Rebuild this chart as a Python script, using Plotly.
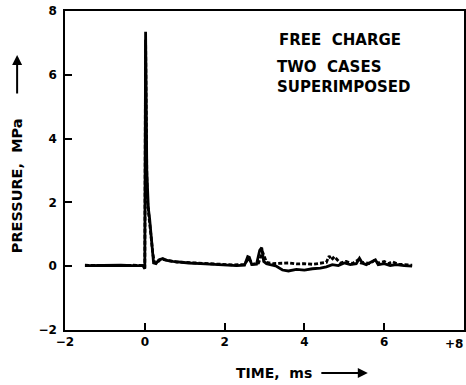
import plotly.graph_objects as go

# Case 1 (solid)
t_solid = [-1.5, -1.2, -0.9, -0.6, -0.3, -0.05, 0.0, 0.01, 0.02, 0.03, 0.05, 0.07,
           0.09, 0.12, 0.15, 0.18, 0.22, 0.28, 0.35, 0.45, 0.55, 0.7, 0.9, 1.1, 1.4,
           1.7, 2.0, 2.3, 2.5, 2.58, 2.62, 2.68, 2.8, 2.88, 2.93, 2.98, 3.05, 3.15,
           3.3, 3.45, 3.6, 3.8, 4.0, 4.2, 4.4, 4.55, 4.7, 4.85, 5.0, 5.15, 5.3, 5.38,
           5.45, 5.55, 5.7, 5.78, 5.85, 6.0, 6.15, 6.3, 6.5, 6.7]
p_solid = [0.02, 0.03, 0.02, 0.03, 0.02, 0.02, -0.08, 3.0, 7.35, 6.0, 3.0, 2.0,
           1.8, 1.5, 1.0, 0.6, 0.1, 0.08, 0.2, 0.24, 0.18, 0.15, 0.12, 0.1, 0.08,
           0.06, 0.05, 0.02, 0.03, 0.3, 0.28, 0.05, 0.06, 0.5, 0.58, 0.15, 0.08, 0.05,
           0.0, -0.12, -0.15, -0.1, -0.12, -0.08, -0.06, -0.02, 0.05, 0.02, 0.1, 0.05,
           0.08, 0.25, 0.1, 0.05, 0.15, 0.2, 0.05, 0.08, 0.02, 0.05, 0.02, 0.0]

# Case 2 (dashed)
t_dash = [-1.5, -1.2, -0.9, -0.6, -0.3, -0.05, 0.0, 0.01, 0.02, 0.03, 0.05, 0.07,
          0.1, 0.13, 0.16, 0.2, 0.24, 0.3, 0.4, 0.5, 0.65, 0.8, 1.0, 1.3, 1.6, 1.9,
          2.2, 2.5, 2.6, 2.7, 2.85, 2.95, 3.05, 3.2, 3.4, 3.6, 3.8, 4.0, 4.2, 4.4,
          4.55, 4.62, 4.68, 4.75, 4.9, 5.05, 5.2, 5.35, 5.42, 5.5, 5.65, 5.75,
          5.85, 6.0, 6.1, 6.2, 6.35, 6.5, 6.7]
p_dash = [0.03, 0.02, 0.03, 0.02, 0.03, 0.02, -0.05, 2.5, 7.1, 5.5, 2.8, 2.0,
          1.6, 1.3, 0.9, 0.4, 0.12, 0.1, 0.22, 0.2, 0.16, 0.13, 0.12, 0.1, 0.08,
          0.06, 0.04, 0.05, 0.25, 0.06, 0.1, 0.45, 0.12, 0.08, 0.08, 0.1, 0.07,
          0.08, 0.06, 0.1, 0.12, 0.32, 0.2, 0.3, 0.1, 0.15, 0.08, 0.2, 0.1, 0.12,
          0.08, 0.18, 0.1, 0.15, 0.08, 0.14, 0.06, 0.05, 0.03]

x_ticks = [-2, 0, 2, 4, 6, 8]
x_tick_labels = ["\u22122", "0", "2", "4", "6", ""]
x_last_label = "+8"
y_ticks = [-2, 0, 2, 4, 6, 8]
y_tick_labels = ["\u22122", "0", "2", "4", "6", "8"]

FONT = "DejaVu Sans"

fig = go.Figure()
fig.add_trace(go.Scatter(x=t_dash, y=p_dash, mode="lines",
                         line=dict(color="black", width=2.8, dash="4px,2px")))
fig.add_trace(go.Scatter(x=t_solid, y=p_solid, mode="lines",
                         line=dict(color="black", width=2.8)))

axis_common = dict(showgrid=False, zeroline=False, showline=True, linecolor="black",
                   linewidth=1.5, mirror=True, ticks="inside", ticklen=7,
                   tickwidth=1.5, tickcolor="black",
                   tickfont=dict(family=FONT, size=12, color="black", weight="bold"))

fig.update_xaxes(range=[-2, 8], tickvals=x_ticks, ticktext=x_tick_labels,
                 automargin=False, **axis_common)
fig.update_yaxes(range=[-2, 8], tickvals=y_ticks, ticktext=y_tick_labels,
                 automargin=False, ticklabelstandoff=4, **axis_common)

annots = [
    dict(x=-0.12, y=0.451, xref="paper", yref="paper", text="PRESSURE,  MPa",
         textangle=-90, showarrow=False, xanchor="center", yanchor="middle",
         font=dict(family=FONT, size=14.5, color="black", weight="bold")),
    dict(x=-0.12, y=0.862, xref="paper", yref="paper", text="", showarrow=True,
         ax=0, ay=40, arrowhead=2, arrowsize=1, arrowwidth=2, arrowcolor="black"),
    dict(x=0.524, y=-0.135, xref="paper", yref="paper", text="TIME,  ms",
         showarrow=False, xanchor="center", yanchor="middle",
         font=dict(family=FONT, size=14, color="black", weight="bold")),
    dict(x=0.759, y=-0.135, xref="paper", yref="paper", text="", showarrow=True,
         ax=-48, ay=0, arrowhead=2, arrowsize=1, arrowwidth=2, arrowcolor="black"),
    dict(x=1.003, y=-0.045, xref="paper", yref="paper", text=x_last_label,
         showarrow=False, xanchor="right", yanchor="middle",
         font=dict(family=FONT, size=12, color="black", weight="bold")),
    dict(x=0.531, y=0.909, xref="paper", yref="paper", text="FREE  CHARGE",
         showarrow=False, xanchor="left", yanchor="middle",
         font=dict(family=FONT, size=15, color="black", weight="bold")),
    dict(x=0.526, y=0.792, xref="paper", yref="paper",
         text="TWO  CASES<br>SUPERIMPOSED", align="left",
         showarrow=False, xanchor="left", yanchor="middle",
         font=dict(family=FONT, size=15, color="black", weight="bold")),
]

fig.update_layout(width=466, height=385, showlegend=False,
                  margin=dict(l=65, r=2, t=11, b=55),
                  paper_bgcolor="white", plot_bgcolor="white",
                  annotations=annots)

fig.write_html("out.html")
